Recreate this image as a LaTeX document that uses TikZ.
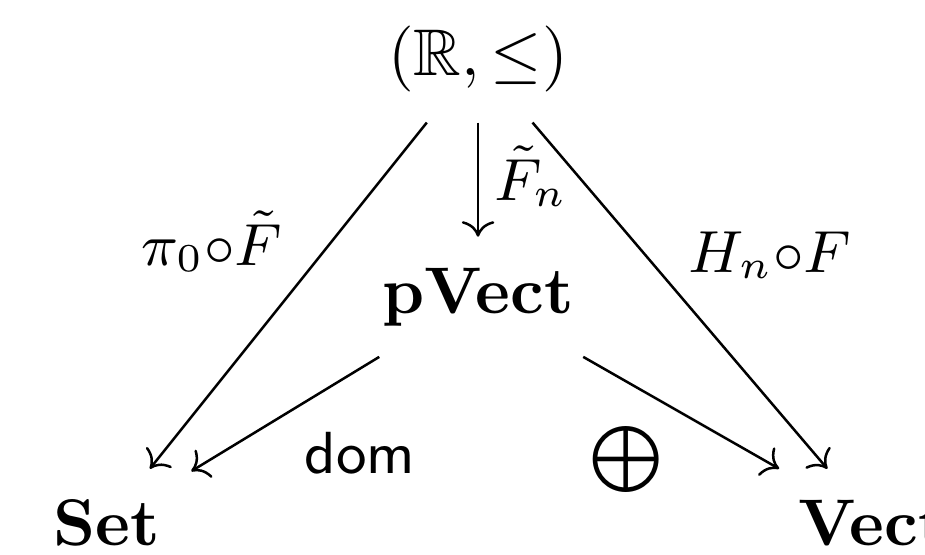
\documentclass[tikz,border=0pt]{standalone}
\usepackage{amsmath, amssymb}
\usetikzlibrary{cd}

\begin{document}
\begin{tikzpicture}[x=15.15pt, y=-15.15pt,
  obj/.style={inner sep=4.5pt, font=\normalsize},
  lbl/.style={inner sep=0pt, font=\small},
  map/.style={-{cm to}, line width=0.38pt}
]
\useasboundingbox (0,0) rectangle (9.25,5.54);

% Objects
\node[obj, anchor=base] (R) at (4.78,0.75) {$(\mathbb{R},\leq)$};
\node[obj, anchor=base] (pV) at (4.78,3.13) {$\mathbf{pVect}$};
\node[obj, anchor=base] (Set) at (1.07,5.45) {$\mathbf{Set}$};
\node[obj, anchor=base] (V) at (8.73,5.45) {$\mathbf{Vect}$};

% Maps
\draw[map] (R) -- (Set);
\draw[map] (R) -- (pV);
\draw[map] (R) -- (V);
\draw[map] (pV) -- (Set);
\draw[map] (pV) -- (V);

% Labels
\node[lbl, anchor=base] (lpi) at (2.12,2.65) {$\pi_0{\circ}\tilde{F}$};
\node[lbl, anchor=base] (lFn) at (5.31,2.00) {$\tilde{F}_n$};
\node[lbl, anchor=base] (lH) at (7.70,2.72) {$H_n{\circ}F$};
\node[lbl, anchor=base, font=\small\sffamily] (ldom) at (3.60,4.73) {dom};
\node[lbl, font=\normalsize] (lsum) at (6.26,4.59) {$\bigoplus$};
\end{tikzpicture}
\end{document}
